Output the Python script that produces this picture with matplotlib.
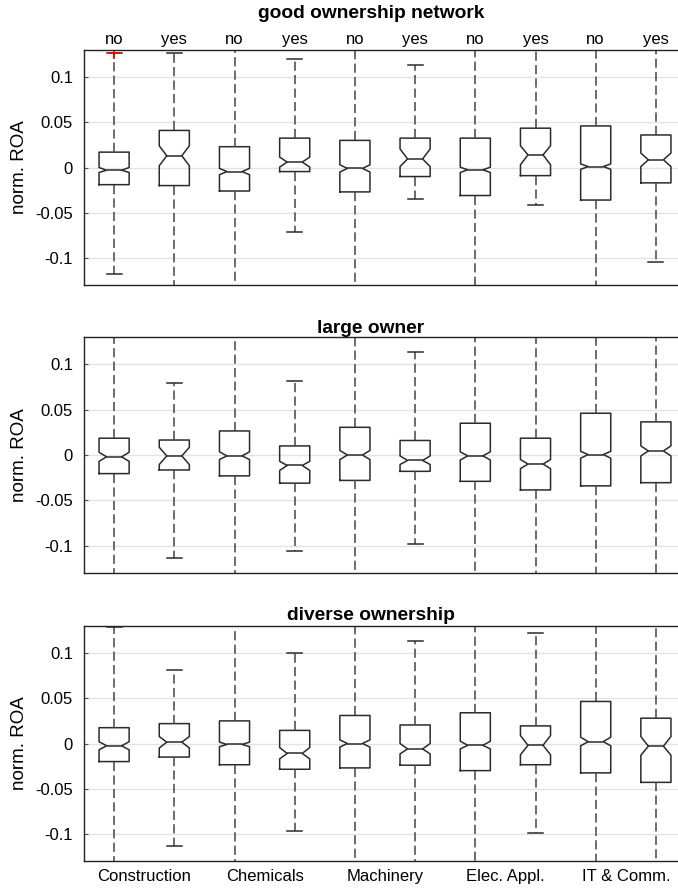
import numpy as np
import matplotlib
matplotlib.use("Agg")
import matplotlib.pyplot as plt

plt.rcParams['font.family'] = ['Liberation Sans', 'DejaVu Sans']

industries = ["Construction", "Chemicals", "Machinery", "Elec. Appl.", "IT & Comm."]
groups = ["no", "yes"]
titles = ["good ownership network", "large owner", "diverse ownership"]

# values beyond +-0.13 mean the whisker runs past the axis limits
# panel 1: good ownership network
p1_q1 = [-0.019, -0.020, -0.026, -0.0045, -0.027, -0.010, -0.031, -0.009, -0.036, -0.017]
p1_med = [-0.003, 0.013, -0.0045, 0.006, -0.001, 0.0095, -0.0025, 0.014, 0.001, 0.0085]
p1_q3 = [0.017, 0.041, 0.023, 0.0325, 0.030, 0.0325, 0.0325, 0.0435, 0.046, 0.036]
p1_lo = [-0.118, -0.2, -0.2, -0.071, -0.2, -0.035, -0.2, -0.041, -0.2, -0.104]
p1_hi = [0.1265, 0.1265, 0.2, 0.120, 0.2, 0.113, 0.2, 0.2, 0.2, 0.2]
p1_cilo = [-0.0055, 0.002, -0.008, 0.0005, -0.005, 0.001, -0.0055, 0.003, -0.002, 0.001]
p1_cihi = [0.0, 0.024, -0.001, 0.0115, 0.003, 0.0205, 0.0003, 0.024, 0.004, 0.016]
p1_out = [[0.1272], [], [], [], [], [], [], [], [], []]

# panel 2: large owner
p2_q1 = [-0.0205, -0.0165, -0.023, -0.031, -0.028, -0.018, -0.029, -0.0385, -0.034, -0.0305]
p2_med = [-0.002, -0.001, -0.001, -0.0115, 0.0, -0.006, -0.001, -0.010, 0.0005, 0.0045]
p2_q3 = [0.0185, 0.0165, 0.0265, 0.010, 0.0305, 0.016, 0.035, 0.0185, 0.046, 0.0365]
p2_lo = [-0.2, -0.1135, -0.2, -0.106, -0.2, -0.0985, -0.2, -0.2, -0.2, -0.2]
p2_hi = [0.2, 0.079, 0.2, 0.082, 0.2, 0.1135, 0.2, 0.2, 0.2, 0.2]
p2_cilo = [-0.007, -0.0105, -0.005, -0.017, -0.005, -0.0105, -0.0055, -0.015, -0.0035, -0.001]
p2_cihi = [0.003, 0.0085, 0.0035, -0.007, 0.005, -0.001, 0.0035, -0.005, 0.004, 0.010]
p2_out = [[] for _ in range(10)]

# panel 3: diverse ownership
p3_q1 = [-0.020, -0.015, -0.0235, -0.0285, -0.027, -0.024, -0.030, -0.0235, -0.0325, -0.043]
p3_med = [-0.0025, 0.0015, -0.001, -0.011, 0.0, -0.006, -0.002, -0.002, 0.002, -0.003]
p3_q3 = [0.0175, 0.022, 0.025, 0.0145, 0.031, 0.0205, 0.034, 0.0195, 0.0465, 0.028]
p3_lo = [-0.2, -0.113, -0.2, -0.097, -0.2, -0.2, -0.2, -0.0985, -0.2, -0.2]
p3_hi = [0.1285, 0.081, 0.2, 0.100, 0.2, 0.1135, 0.2, 0.122, 0.2, 0.2]
p3_cilo = [-0.007, -0.005, -0.0035, -0.017, -0.004, -0.0115, -0.006, -0.0125, -0.0025, -0.013]
p3_cihi = [0.002, 0.0077, 0.0015, -0.0045, 0.004, 0.0, 0.0025, 0.0088, 0.007, 0.0077]
p3_out = [[] for _ in range(10)]

panels = [
    (p1_q1, p1_med, p1_q3, p1_lo, p1_hi, p1_cilo, p1_cihi, p1_out),
    (p2_q1, p2_med, p2_q3, p2_lo, p2_hi, p2_cilo, p2_cihi, p2_out),
    (p3_q1, p3_med, p3_q3, p3_lo, p3_hi, p3_cilo, p3_cihi, p3_out),
]

W, H = 678, 889
fig = plt.figure(figsize=(W / 100, H / 100), dpi=100)
left = 84 / W
width = (686 - 84) / W
tops = [50, 337, 626]
bots = [285, 573, 861]

box_col = '#2b2b2b'
wh_col = '#444444'
positions = np.arange(1, 11)
title_x = (371 - 84) / (686 - 84)

for i, (q1, med, q3, lo, hi, cilo, cihi, out) in enumerate(panels):
    ax = fig.add_axes([left, 1 - bots[i] / H, width, (bots[i] - tops[i]) / H])
    stats = []
    for k in range(10):
        stats.append(dict(q1=q1[k], med=med[k], q3=q3[k], whislo=lo[k], whishi=hi[k],
                          cilo=cilo[k], cihi=cihi[k], fliers=np.array(out[k])))
    ax.bxp(stats, positions=positions, widths=0.5, shownotches=True, showfliers=True,
           boxprops=dict(color=box_col, linewidth=1.1),
           medianprops=dict(color=box_col, linewidth=1.1),
           whiskerprops=dict(color=wh_col, linewidth=1.1, linestyle=(0, (6.0, 2.8))),
           capprops=dict(color=box_col, linewidth=1.1),
           flierprops=dict(marker='+', markeredgecolor='red', markersize=8, markeredgewidth=1.2))
    ax.set_xlim(0.5, 10.5)
    ax.set_ylim(-0.13, 0.13)
    ax.set_yticks([-0.1, -0.05, 0, 0.05, 0.1])
    ax.set_yticklabels(['-0.1', '-0.05', '0', '0.05', '0.1'])
    ax.yaxis.grid(True, color='#e3e3e3', linewidth=1.0)
    ax.set_axisbelow(True)
    ax.tick_params(axis='y', direction='in', length=3, color='#555555', pad=8, labelsize=12)
    ax.set_ylabel('norm. ROA', fontsize=13.5, labelpad=5)
    for s in ['top', 'bottom', 'left']:
        ax.spines[s].set_color('#222222')
        ax.spines[s].set_linewidth(1.0)
    ax.spines['right'].set_visible(False)
    if i == 0:
        ax.set_xticks(positions)
        ax.set_xticklabels(groups * 5)
        ax.tick_params(axis='x', top=False, bottom=False, labeltop=True, labelbottom=False,
                       length=0, pad=2, labelsize=12)
        ax.set_title(titles[i], fontsize=13.8, fontweight='bold', pad=23, x=title_x)
    elif i == 2:
        ax.set_xticks(np.arange(1.5, 10.5, 2))
        ax.set_xticklabels(industries)
        ax.tick_params(axis='x', length=0, pad=6, labelsize=12)
        ax.set_title(titles[i], fontsize=13.8, fontweight='bold', pad=4, x=title_x)
    else:
        ax.set_xticks([])
        ax.set_title(titles[i], fontsize=13.8, fontweight='bold', pad=3, x=title_x)

fig.savefig('out.png', dpi=100)
